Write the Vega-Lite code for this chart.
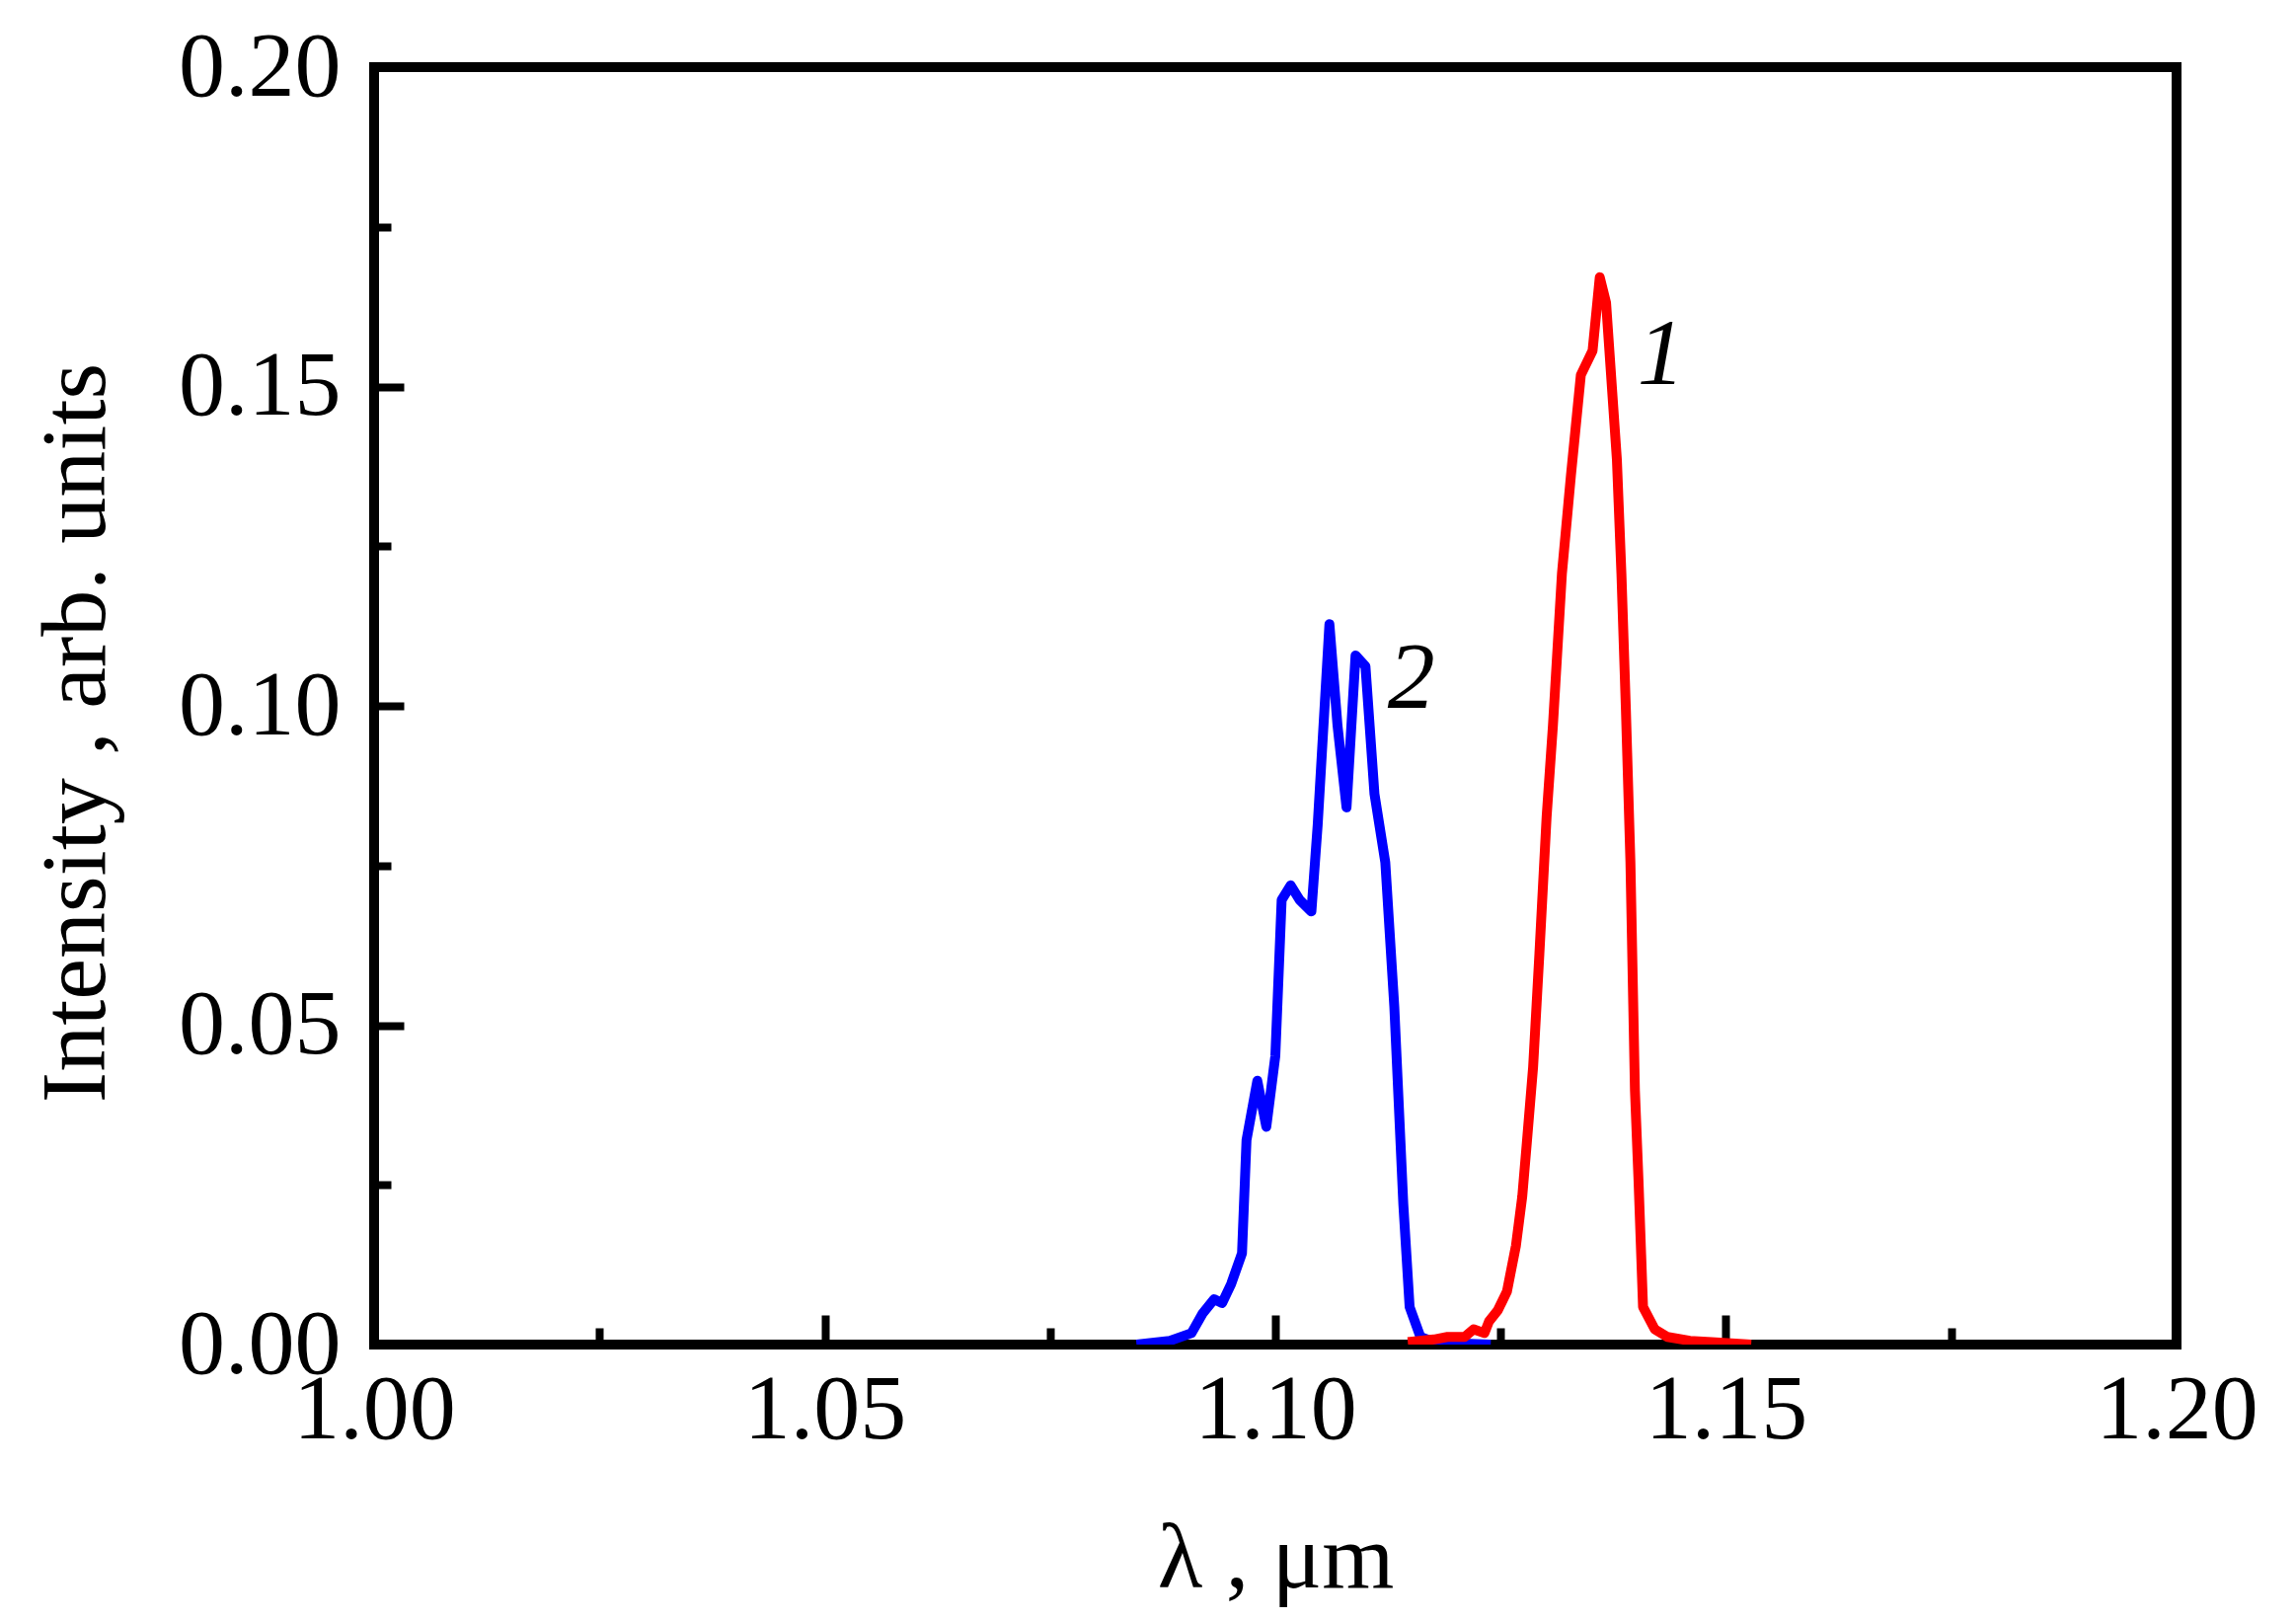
{
  "$schema": "https://vega.github.io/schema/vega-lite/v6.json",
  "autosize": "none",
  "width": 1826,
  "height": 1294,
  "padding": {"left": 379, "top": 68, "right": 121, "bottom": 279},
  "background": "white",
  "config": {
    "view": {"stroke": "black", "strokeWidth": 10},
    "font": "Liberation Serif"
  },
  "datasets": {
    "spectra": [
      {"lambda": 1.0846, "intensity": 0.0000, "series": "2"},
      {"lambda": 1.0883, "intensity": 0.0006, "series": "2"},
      {"lambda": 1.0907, "intensity": 0.0018, "series": "2"},
      {"lambda": 1.0919, "intensity": 0.0048, "series": "2"},
      {"lambda": 1.0932, "intensity": 0.0071, "series": "2"},
      {"lambda": 1.0941, "intensity": 0.0065, "series": "2"},
      {"lambda": 1.0951, "intensity": 0.0095, "series": "2"},
      {"lambda": 1.0963, "intensity": 0.0143, "series": "2"},
      {"lambda": 1.0968, "intensity": 0.0320, "series": "2"},
      {"lambda": 1.0980, "intensity": 0.0413, "series": "2"},
      {"lambda": 1.0990, "intensity": 0.0341, "series": "2"},
      {"lambda": 1.1000, "intensity": 0.0452, "series": "2"},
      {"lambda": 1.1007, "intensity": 0.0696, "series": "2"},
      {"lambda": 1.1017, "intensity": 0.0719, "series": "2"},
      {"lambda": 1.1027, "intensity": 0.0696, "series": "2"},
      {"lambda": 1.1040, "intensity": 0.0678, "series": "2"},
      {"lambda": 1.1047, "intensity": 0.0814, "series": "2"},
      {"lambda": 1.1060, "intensity": 0.1128, "series": "2"},
      {"lambda": 1.1069, "intensity": 0.0969, "series": "2"},
      {"lambda": 1.1079, "intensity": 0.0841, "series": "2"},
      {"lambda": 1.1089, "intensity": 0.1079, "series": "2"},
      {"lambda": 1.1100, "intensity": 0.1062, "series": "2"},
      {"lambda": 1.1110, "intensity": 0.0862, "series": "2"},
      {"lambda": 1.1122, "intensity": 0.0755, "series": "2"},
      {"lambda": 1.1132, "intensity": 0.0529, "series": "2"},
      {"lambda": 1.1142, "intensity": 0.0220, "series": "2"},
      {"lambda": 1.1149, "intensity": 0.0059, "series": "2"},
      {"lambda": 1.1161, "intensity": 0.0012, "series": "2"},
      {"lambda": 1.1176, "intensity": 0.0004, "series": "2"},
      {"lambda": 1.1200, "intensity": 0.0002, "series": "2"},
      {"lambda": 1.1239, "intensity": 0.0000, "series": "2"},
      {"lambda": 1.1147, "intensity": 0.0004, "series": "1"},
      {"lambda": 1.1176, "intensity": 0.0008, "series": "1"},
      {"lambda": 1.1191, "intensity": 0.0012, "series": "1"},
      {"lambda": 1.1210, "intensity": 0.0012, "series": "1"},
      {"lambda": 1.1220, "intensity": 0.0024, "series": "1"},
      {"lambda": 1.1232, "intensity": 0.0018, "series": "1"},
      {"lambda": 1.1237, "intensity": 0.0036, "series": "1"},
      {"lambda": 1.1247, "intensity": 0.0054, "series": "1"},
      {"lambda": 1.1257, "intensity": 0.0083, "series": "1"},
      {"lambda": 1.1267, "intensity": 0.0155, "series": "1"},
      {"lambda": 1.1274, "intensity": 0.0232, "series": "1"},
      {"lambda": 1.1279, "intensity": 0.0315, "series": "1"},
      {"lambda": 1.1286, "intensity": 0.0434, "series": "1"},
      {"lambda": 1.1293, "intensity": 0.0612, "series": "1"},
      {"lambda": 1.1301, "intensity": 0.0826, "series": "1"},
      {"lambda": 1.1308, "intensity": 0.0969, "series": "1"},
      {"lambda": 1.1318, "intensity": 0.1207, "series": "1"},
      {"lambda": 1.1328, "intensity": 0.1361, "series": "1"},
      {"lambda": 1.1339, "intensity": 0.1518, "series": "1"},
      {"lambda": 1.1352, "intensity": 0.1556, "series": "1"},
      {"lambda": 1.1360, "intensity": 0.1671, "series": "1"},
      {"lambda": 1.1367, "intensity": 0.1631, "series": "1"},
      {"lambda": 1.1379, "intensity": 0.1385, "series": "1"},
      {"lambda": 1.1384, "intensity": 0.1207, "series": "1"},
      {"lambda": 1.1389, "intensity": 0.0993, "series": "1"},
      {"lambda": 1.1394, "intensity": 0.0755, "series": "1"},
      {"lambda": 1.1399, "intensity": 0.0398, "series": "1"},
      {"lambda": 1.1403, "intensity": 0.0256, "series": "1"},
      {"lambda": 1.1408, "intensity": 0.0059, "series": "1"},
      {"lambda": 1.1421, "intensity": 0.0024, "series": "1"},
      {"lambda": 1.1435, "intensity": 0.0012, "series": "1"},
      {"lambda": 1.1460, "intensity": 0.0006, "series": "1"},
      {"lambda": 1.1484, "intensity": 0.0004, "series": "1"},
      {"lambda": 1.1528, "intensity": 0.0000, "series": "1"}
    ],
    "labels": [
      {"lambda": 1.1428, "intensity": 0.1504, "text": "1"},
      {"lambda": 1.1151, "intensity": 0.0997, "text": "2"}
    ]
  },
  "layer": [
    {
      "data": {"name": "spectra"},
      "mark": {"type": "line", "strokeWidth": 10, "strokeJoin": "round", "strokeCap": "butt", "clip": true},
      "encoding": {
        "x": {
          "field": "lambda",
          "type": "quantitative",
          "scale": {"domain": [1.0, 1.2], "nice": false, "zero": false},
          "axis": {
            "title": "λ , μm",
            "titleFontSize": 94,
            "titleFontWeight": "normal",
            "titleColor": "black",
            "titlePadding": 45,
            "values": [1.0, 1.025, 1.05, 1.075, 1.1, 1.125, 1.15, 1.175, 1.2],
            "format": ".2f",
            "labelExpr": "round(datum.value * 1000) % 50 == 0 ? datum.label : ''",
            "labelFontSize": 94,
            "labelColor": "black",
            "labelPadding": 50,
            "labelOverlap": false,
            "labelFlush": false,
            "labelBound": false,
            "domain": false,
            "grid": false,
            "tickColor": "black",
            "tickWidth": 8,
            "tickSize": {"condition": {"test": "round(datum.value * 1000) % 50 == 0", "value": -30}, "value": -17}
          }
        },
        "y": {
          "field": "intensity",
          "type": "quantitative",
          "scale": {"domain": [0, 0.2], "nice": false},
          "axis": {
            "title": "Intensity , arb. units",
            "titleFontSize": 94,
            "titleFontWeight": "normal",
            "titleColor": "black",
            "titlePadding": 55,
            "titleY": 674,
            "values": [0, 0.025, 0.05, 0.075, 0.1, 0.125, 0.15, 0.175, 0.2],
            "format": ".2f",
            "labelExpr": "round(datum.value * 1000) % 50 == 0 ? datum.label : ''",
            "labelFontSize": 94,
            "labelColor": "black",
            "labelPadding": 64,
            "labelOverlap": false,
            "labelFlush": false,
            "labelBound": false,
            "domain": false,
            "grid": false,
            "tickColor": "black",
            "tickWidth": 8,
            "tickSize": {"condition": {"test": "round(datum.value * 1000) % 50 == 0", "value": -30}, "value": -17}
          }
        },
        "color": {
          "field": "series",
          "type": "nominal",
          "scale": {"domain": ["1", "2"], "range": ["#ff0000", "#0000ff"]},
          "legend": null
        }
      }
    },
    {
      "data": {"name": "labels"},
      "mark": {"type": "text", "font": "Liberation Serif", "fontStyle": "italic", "fontSize": 96, "align": "center", "baseline": "alphabetic", "color": "black"},
      "encoding": {
        "x": {"field": "lambda", "type": "quantitative"},
        "y": {"field": "intensity", "type": "quantitative"},
        "text": {"field": "text", "type": "nominal"}
      }
    }
  ]
}
